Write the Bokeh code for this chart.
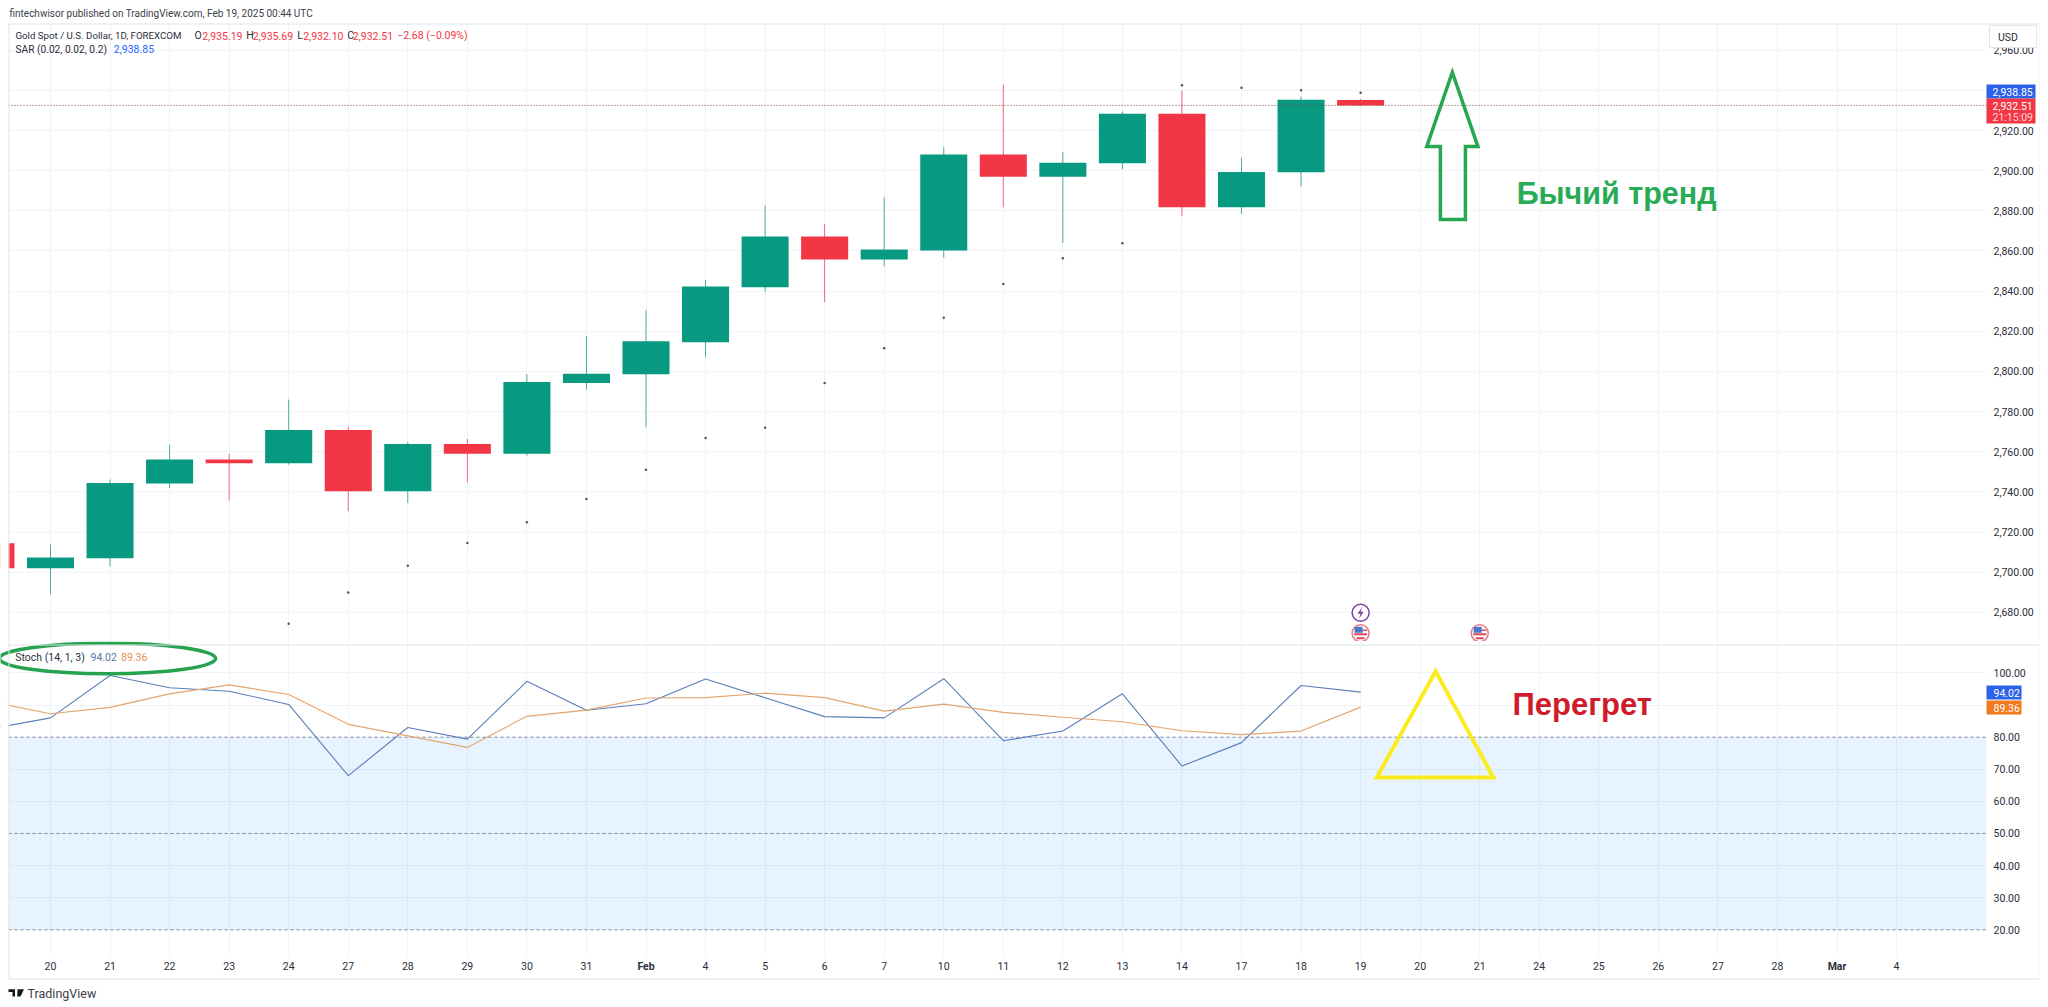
from bokeh.plotting import figure
from bokeh.layouts import column
from bokeh.models import (Label, BoxAnnotation, PolyAnnotation, FixedTicker,
                          NumeralTickFormatter, Range1d, ColumnDataSource)
from bokeh.core.properties import value
from bokeh.embed import file_html
from bokeh.resources import INLINE

# ---- data ----
bars = list(range(-1, 23))
opens = [2714.4, 2702.0, 2707.0, 2744.2, 2756.1, 2754.3, 2770.9, 2740.3, 2763.9, 2759.0, 2794.3, 2798.6,
         2814.6, 2842.0, 2867.2, 2855.7, 2860.2, 2908.0, 2897.0, 2903.7, 2928.3, 2881.8, 2899.2, 2935.19]
highs = [2716.0, 2713.8, 2746.2, 2763.6, 2759.0, 2786.0, 2772.5, 2764.9, 2766.4, 2798.7, 2817.6, 2830.7,
         2845.6, 2882.6, 2873.5, 2886.6, 2911.7, 2942.9, 2909.4, 2929.5, 2939.9, 2906.4, 2937.0, 2935.69]
lows = [2698.0, 2689.2, 2702.8, 2742.0, 2735.7, 2753.6, 2730.4, 2734.5, 2744.8, 2758.0, 2791.0, 2772.2,
        2807.0, 2839.8, 2834.5, 2852.4, 2856.6, 2881.8, 2864.0, 2900.7, 2877.3, 2878.5, 2892.1, 2932.10]
closes = [2702.0, 2707.3, 2744.5, 2756.1, 2754.3, 2770.9, 2740.3, 2763.9, 2759.0, 2794.8, 2798.9, 2815.0,
          2842.3, 2867.2, 2855.7, 2860.7, 2908.0, 2897.0, 2904.0, 2928.3, 2881.8, 2899.4, 2935.3, 2932.51]

sar_bars = list(range(4, 23))
sar = [2674.3, 2689.9, 2703.2, 2714.6, 2724.9, 2736.5, 2751.0, 2766.9, 2771.9, 2794.3, 2811.6, 2826.7,
       2843.6, 2856.4, 2863.9, 2942.6, 2941.3, 2940.1, 2938.85]

stoch_k = [82.6, 86.0, 99.2, 95.4, 94.3, 90.2, 68.0, 83.0, 79.4, 97.4, 88.4, 90.4, 98.1, 92.3, 86.4, 86.0,
           98.2, 78.9, 81.9, 93.5, 71.0, 78.3, 96.1, 94.02]
stoch_d = [91.0, 87.3, 89.3, 93.5, 96.3, 93.3, 84.0, 80.4, 76.8, 86.5, 88.4, 92.2, 92.3, 93.7, 92.3, 88.1,
           90.3, 87.7, 86.2, 84.8, 82.0, 80.8, 81.9, 89.36]

tick_labels = ["20", "21", "22", "23", "24", "27", "28", "29", "30", "31", "Feb", "4", "5", "6", "7", "10", "11",
               "12", "13", "14", "17", "18", "19", "20", "21", "24", "25", "26", "27", "28", "Mar", "4"]
price_ticks = list(range(2680, 2961, 20))
stoch_ticks = [20, 30, 40, 50, 60, 70, 80, 90, 100]
stoch_levels = [80, 50, 20]

arrow_x = [23.54, 23.97, 23.76, 23.76, 23.34, 23.34, 23.11]
arrow_y = [2949, 2912, 2912, 2875.7, 2875.7, 2912, 2912]
tri_x = [23.26, 24.23, 22.27]
tri_y = [100.5, 67.4, 67.4]

# ---- layout and colours ----
FONT = "Roboto"
FS = 10.5
TXT = "#2a2e39"
GREEN, RED = "#089981", "#f23645"
GRID = "#f0f3fa"
EDGE = "#e0e3eb"
PX_X = 59.55      # pixels per bar
PX_P = 2.0075     # pixels per dollar
X0, X1 = -0.705, 32.51       # bar positions of the pane's left and right edges
xr = Range1d(-0.8396, 33.417)


def lab(fig, text, x, y, top, color=TXT, size=FS, align="left", style="normal", font=FONT):
    fig.add_layout(Label(x=x, y=y - top, x_units="canvas", y_units="canvas", text=text, text_color=color,
                         text_font=font, text_font_size=f"{size}px", text_align=align, text_baseline="middle",
                         text_font_style=style, level="overlay"))


def box(fig, x0, x1, y0, y1, top, color, line=None):
    fig.add_layout(BoxAnnotation(left=x0, right=x1, top=y0 - top, bottom=y1 - top,
                                 left_units="canvas", right_units="canvas", top_units="canvas", bottom_units="canvas",
                                 fill_color=color, fill_alpha=1, line_color=line, line_alpha=1 if line else 0,
                                 level="annotation", editable=False))


def style_axis(ax, standoff):
    ax.axis_line_color = None
    ax.major_tick_line_color = None
    ax.minor_tick_line_color = None
    ax.major_label_text_font = FONT
    ax.major_label_text_font_size = f"{FS}px"
    ax.major_label_text_color = TXT
    ax.major_label_standoff = standoff


# ---- price pane ----
p_lo, p_hi = 2665.5, 2984.76
p = figure(width=2040, height=641, frame_width=2040, frame_height=641, x_range=xr, y_range=Range1d(p_lo, p_hi),
           output_backend="svg", toolbar_location=None, x_axis_location=None, y_axis_location="right",
           min_border=0, background_fill_color="white", border_fill_color="white", outline_line_color=None)
p.yaxis.ticker = FixedTicker(ticks=price_ticks)
p.yaxis.formatter = NumeralTickFormatter(format="0,0.00")
p.yaxis.major_label_overrides = {2940: ""}
style_axis(p.yaxis[0], -53)
p.ygrid.ticker = FixedTicker(ticks=price_ticks)
p.xgrid.ticker = FixedTicker(ticks=list(range(len(tick_labels))))
p.xgrid.grid_line_color = GRID
p.ygrid.grid_line_color = GRID

cols = [GREEN if c >= o else RED for o, c in zip(opens, closes)]
src = ColumnDataSource(dict(x=bars, o=opens, h=highs, l=lows, c=closes, col=cols))
p.segment("x", "h", "x", "l", source=src, color="col", line_width=1, line_alpha=0.75)
p.vbar(x="x", width=0.79, top="o", bottom="c", source=src, fill_color="col", line_color=None)
p.scatter(sar_bars, sar, size=2.5, color="#50535e", marker="circle", line_color=None)
p.segment([X0], [closes[-1]], [X1], [closes[-1]], line_color="#7a3a44", line_width=1, line_dash="1 2")
# white masks outside the pane (under the axis labels)
p.quad(left=[-2, X1, -2], right=[X0, 34, 34], bottom=[p_lo, p_lo, 2973.3], top=[p_hi, p_hi, p_hi],
       fill_color="white", line_color=None)

p.patch(arrow_x, arrow_y, fill_color=None, line_color="#27a850", line_width=3.5, line_join="miter")
p.text([24.62], [2889], text=["Бычий тренд"], text_font=value("Liberation Sans"), text_font_style="bold",
       text_font_size="30.5px", text_color="#27ab55", text_baseline="alphabetic")

# event icons
evx, evy = [22, 24], [2669.6, 2669.6]
p.scatter(evx, evy, size=17, marker="circle", fill_color="white", line_color="#e57b85", line_width=1.5)
for ex, ey in zip(evx, evy):
    for dx, dy, w, h, c in [(0, -1, 13, 2, "#d8485a"), (4, 3, 5, 1.5, "#d8485a"), (0, -5, 8, 2, "#d8485a"),
                            (-2, 3.5, 8, 6, "#4a78c8")]:
        p.rect([ex + dx / PX_X], [ey + dy / PX_P], width=w, height=h, width_units="screen", height_units="screen",
               fill_color=c, line_color=None)
p.scatter([22], [2679.8], size=17, marker="circle", fill_color="white", line_color="#7b3fa0", line_width=1.5)
bolt_x = [1.5, -3, 0, -1.5, 3, 0]
bolt_y = [6, -1, -1, -6, 1, 1]
p.patch([22 + v / PX_X for v in bolt_x], [2679.8 + v / PX_P for v in bolt_y], fill_color="#7b3fa0", line_color=None)

T1 = 0
box(p, 8, 2040, 23, 24, T1, EDGE)
box(p, 8, 9, 23, 641, T1, EDGE)
box(p, 2039, 2040, 23, 641, T1, "#f0f1f4")
lab(p, "fintechwisor published on TradingView.com, Feb 19, 2025 00:44 UTC", 9, 12.5, T1, color="#3a3e48", size=10)
lab(p, "Gold Spot / U.S. Dollar, 1D, FOREXCOM", 15, 35, T1, size=9.7)
for t, x, c in [("O", 194, TXT), ("2,935.19", 201.7, RED), ("H", 245.7, TXT), ("2,935.69", 252.3, RED),
                ("L", 296.7, TXT), ("2,932.10", 302.7, RED), ("C", 346.7, TXT), ("2,932.51", 352.3, RED),
                ("−2.68 (−0.09%)", 396.7, RED)]:
    lab(p, t, x, 35, T1, color=c)
lab(p, "SAR (0.02, 0.02, 0.2)", 15, 48.5, T1, size=10.2)
lab(p, "2,938.85", 113.3, 48.5, T1, color="#2962ff")

box(p, 1989, 2036, 25, 47, T1, "white", line=EDGE)
lab(p, "USD", 2007.5, 36.5, T1, align="center")
box(p, 1986, 2035, 84, 98, T1, "#2c62e8")
lab(p, "2,938.85", 1992, 91, T1, color="white")
box(p, 1986, 2035, 98, 123, T1, RED)
lab(p, "2,932.51", 1992, 105, T1, color="white")
lab(p, "21:15:09", 1992, 116.5, T1, color="#ffd5d9")

# ---- stochastic pane ----
s_lo, s_hi = -2.34, 109.8
q = figure(width=2040, height=360, frame_width=2040, frame_height=360, x_range=xr, y_range=Range1d(s_lo, s_hi),
           output_backend="svg", toolbar_location=None, y_axis_location="right",
           min_border=0, background_fill_color="white", border_fill_color="white", outline_line_color=None)
q.yaxis.ticker = FixedTicker(ticks=stoch_ticks)
q.yaxis.formatter = NumeralTickFormatter(format="0.00")
q.yaxis.major_label_overrides = {90: ""}
q.xaxis.ticker = FixedTicker(ticks=list(range(len(tick_labels))))
over = {i: t for i, t in enumerate(tick_labels)}
over[10] = ""
over[30] = ""
q.xaxis.major_label_overrides = over
style_axis(q.yaxis[0], -53)
style_axis(q.xaxis[0], -46)
q.ygrid.ticker = FixedTicker(ticks=stoch_ticks)
q.xgrid.ticker = FixedTicker(ticks=list(range(len(tick_labels))))
q.xgrid.grid_line_color = GRID
q.ygrid.grid_line_color = GRID

q.quad(left=[X0], right=[X1], bottom=[stoch_levels[-1]], top=[stoch_levels[0]], fill_color="#2196f3", fill_alpha=0.11, line_color=None)
q.segment([X0] * 3, stoch_levels, [X1] * 3, stoch_levels, line_color="#868993", line_width=1, line_dash="3 3")
q.line(bars, stoch_k, line_color="#5a7fb8", line_width=1.1)
q.line(bars, stoch_d, line_color="#e3a56f", line_width=1.2)
q.quad(left=[-2, X1, -2], right=[X0, 34, 34], bottom=[s_lo, s_lo, s_lo], top=[s_hi, s_hi, 11.7],
       fill_color="white", line_color=None)
q.patch(tri_x, tri_y, fill_color=None, line_color="#fbec1e", line_width=4, line_join="miter")
q.ellipse([0.957], [104.5], width=3.63, height=9.5, fill_color=None, line_color="#27a34f", line_width=3.5)
q.text([24.55], [90.1], text=["Перегрет"], text_font=value("Liberation Sans"), text_font_style="bold",
       text_font_size="31px", text_color="#d01c2a", text_baseline="alphabetic")

T2 = 641
box(q, 8, 2040, 644, 645, T2, EDGE)
box(q, 8, 2040, 978, 979, T2, EDGE)
box(q, 8, 9, 641, 978, T2, EDGE)
box(q, 2039, 2040, 641, 978, T2, "#f0f1f4")
lab(q, "Stoch (14, 1, 3)", 14.7, 656.7, T2)
lab(q, "94.02", 90, 656.7, T2, color="#5577aa")
lab(q, "89.36", 120.5, 656.7, T2, color="#e09050")
box(q, 1986, 2021, 685, 699, T2, "#2c62e8")
lab(q, "94.02", 1993, 692, T2, color="white")
box(q, 1986, 2021, 700, 714, T2, "#ef7a1f")
lab(q, "89.36", 1993, 707, T2, color="white")
lab(q, "Feb", 50 + 10 * PX_X, 966, T2, align="center", style="bold")
lab(q, "Mar", 50 + 30 * PX_X, 966, T2, align="center", style="bold")
lab(q, "TradingView", 27, 993, T2, color="#3a3e48", size=12.5)

# TradingView mark
for xs, ys in [([8, 14.5, 14.5, 12, 12, 8], [988.7, 988.7, 996, 996, 991.5, 991.5]),
               ([17, 23.5, 20, 16.8], [988.7, 988.7, 996, 996])]:
    q.add_layout(PolyAnnotation(xs=xs, ys=[v - T2 for v in ys], xs_units="canvas", ys_units="canvas",
                                fill_color="#131722", fill_alpha=1, line_color=None, editable=False, level="overlay"))

page = column(p, q, spacing=0)
open("out.html", "w").write(file_html(page, INLINE))
